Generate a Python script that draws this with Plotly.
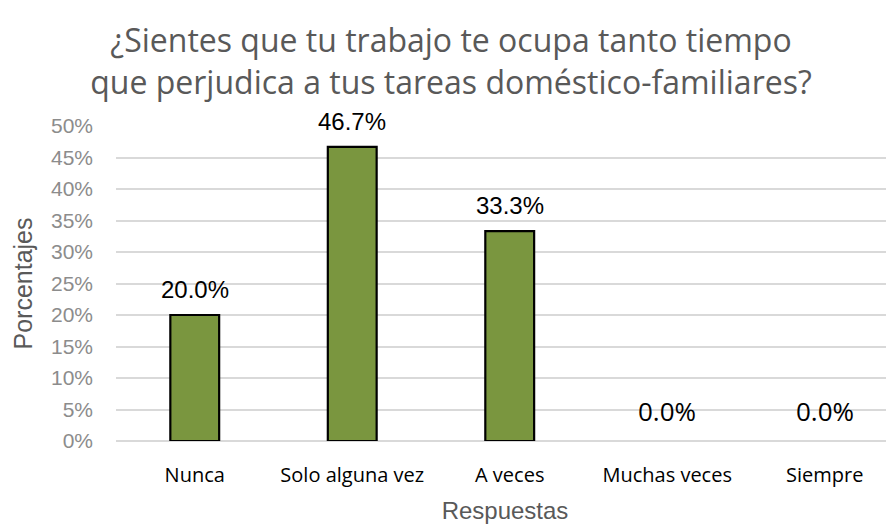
import plotly.graph_objects as go

categories = ["Nunca", "Solo alguna vez", "A veces", "Muchas veces", "Siempre"]
values = [0.200, 0.467, 0.333, 0.0, 0.0]
tick_vals = [0, 0.05, 0.10, 0.15, 0.20, 0.25, 0.30, 0.35, 0.40, 0.45, 0.50]
tick_text = ["0%", "5%", "10%", "15%", "20%", "25%", "30%", "35%", "40%", "45%", "50%"]

outline_widths = [2.2 if v > 0 else 0 for v in values]

fig = go.Figure()
fig.add_trace(go.Bar(
    x=categories,
    y=values,
    width=0.31,
    marker=dict(color="#7a963f", line=dict(color="#000000", width=outline_widths)),
    cliponaxis=False,
))

for cat, v in zip(categories, values):
    fig.add_annotation(
        x=cat, y=v, xref="x", yref="y",
        text=f"{v*100:.1f}%", showarrow=False,
        yanchor="bottom", yshift=10,
        font=dict(family="Liberation Sans, Arial" if v > 0 else "Open Sans",
                  size=24 if v > 0 else 26, color="#000000"),
    )

fig.add_annotation(
    text="Porcentajes", textangle=-90, showarrow=False,
    xref="paper", yref="paper", x=(22 - 8 - 108) / 778, y=0.5,
    xanchor="center", yanchor="middle",
    font=dict(family="Liberation Sans, Arial", size=25, color="#595959"),
)

fig.update_layout(
    width=886, height=516,
    margin=dict(l=108, r=0, t=118, b=83),
    paper_bgcolor="white", plot_bgcolor="white",
    showlegend=False,
    title=dict(
        text="¿Sientes que tu trabajo te ocupa tanto tiempo<br>que perjudica a tus tareas doméstico-familiares?",
        x=0.5, xanchor="center", yref="container", y=1 - 44 / 516, yanchor="middle",
        font=dict(family="Open Sans", size=32, color="#595959"),
    ),
    xaxis=dict(
        range=[-0.5, 4.44],
        showgrid=False, zeroline=False, showline=False,
        tickfont=dict(family="Open Sans", size=20, color="#000000"),
        ticks="", ticklabelstandoff=20,
        title=dict(text="Respuestas", font=dict(family="Liberation Sans, Arial", size=24, color="#595959"), standoff=15),
    ),
    yaxis=dict(
        range=[0, 0.5],
        tickvals=tick_vals, ticktext=tick_text,
        showgrid=True, gridcolor="#d9d9d9", gridwidth=1.5,
        zeroline=True, zerolinecolor="#d9d9d9", zerolinewidth=1.5,
        tickfont=dict(family="Liberation Sans, Arial", size=21, color="#8c8c8c"),
        ticks="", ticklabelstandoff=22,
    ),
)

fig.write_html("out.html")
